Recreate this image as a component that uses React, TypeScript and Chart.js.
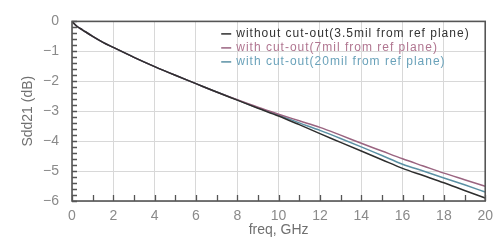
import React, { useEffect, useRef } from "react";
import { Chart, registerables } from "chart.js";

Chart.register(...registerables);

const freq = [0, 0.25, 0.5, 1, 1.5, 2, 3, 4, 5, 6, 7, 8, 9, 10, 11, 12, 13, 14, 15, 16, 17, 18, 19, 20];
const sNoCut = [0, -0.17, -0.28, -0.5, -0.7, -0.87, -1.2, -1.51, -1.8, -2.08, -2.36, -2.63, -2.9, -3.16, -3.45, -3.75, -4.04, -4.33, -4.62, -4.91, -5.15, -5.39, -5.65, -5.9];
const sCut7 = [0, -0.17, -0.28, -0.5, -0.7, -0.87, -1.2, -1.51, -1.8, -2.08, -2.36, -2.62, -2.87, -3.1, -3.32, -3.54, -3.8, -4.07, -4.33, -4.59, -4.83, -5.07, -5.29, -5.51];
const sCut20 = [0, -0.17, -0.28, -0.5, -0.7, -0.87, -1.2, -1.51, -1.8, -2.08, -2.36, -2.62, -2.89, -3.13, -3.39, -3.64, -3.91, -4.19, -4.48, -4.77, -5.0, -5.23, -5.46, -5.7];

const seriesLabels = [
  "without cut-out(3.5mil from ref plane)",
  "with cut-out(7mil from ref plane)",
  "with cut-out(20mil from ref plane)",
];
const lineColors = ["#2e2e2e", "#9a6480", "#5a90a4"];
const legendTextColors = ["#333333", "#b07590", "#6aa2ba"];

const xTicks = [0, 2, 4, 6, 8, 10, 12, 14, 16, 18, 20];
const yTicks = [0, -1, -2, -3, -4, -5, -6];

const FONT = "'Liberation Sans', Arial, sans-serif";

const framePlugin = {
  id: "frame",
  afterDraw(chart: any) {
    const { ctx, chartArea, scales } = chart;
    const { left, right, top, bottom } = chartArea;
    const x = scales.x;
    const y = scales.y;
    ctx.save();
    ctx.strokeStyle = "#555";
    ctx.lineWidth = 1.3;
    ctx.beginPath();
    for (let i = 0; i <= 30; i++) {
      const py = Math.round(y.getPixelForValue(-i * 0.2)) + 0.5;
      ctx.moveTo(left, py);
      ctx.lineTo(left + 5, py);
    }
    for (let i = 0; i <= 20; i++) {
      const px = Math.round(x.getPixelForValue(i)) + 0.5;
      ctx.moveTo(px, bottom);
      ctx.lineTo(px, bottom - 6);
    }
    ctx.stroke();
    ctx.lineWidth = 1.6;
    ctx.strokeRect(left, top, right - left, bottom - top);

    // legend
    ctx.font = "12px " + FONT;
    try {
      (ctx as any).letterSpacing = "1px";
    } catch (e) {}
    ctx.textBaseline = "middle";
    ctx.textAlign = "left";
    const ds = chart.data.datasets;
    for (let i = 0; i < ds.length; i++) {
      const ly = top + 12.5 + i * 14;
      ctx.strokeStyle = ds[i].borderColor;
      ctx.lineWidth = 1.5;
      ctx.beginPath();
      ctx.moveTo(right - 264, ly);
      ctx.lineTo(right - 254, ly);
      ctx.stroke();
      ctx.fillStyle = legendTextColors[i];
      ctx.fillText(ds[i].label, right - 249, ly);
    }
    ctx.restore();
  },
};

export default function App() {
  const ref = useRef<HTMLCanvasElement>(null);
  useEffect(() => {
    document.body.style.margin = "0";
    const canvas = ref.current!;
    const mk = (vals: number[]) => freq.map((f, i) => ({ x: f, y: vals[i] }));
    const chart = new Chart(canvas, {
      type: "line",
      data: {
        datasets: [sNoCut, sCut7, sCut20].map((vals, i) => ({
          label: seriesLabels[i],
          data: mk(vals),
          borderColor: lineColors[i],
          backgroundColor: lineColors[i],
          borderWidth: 1.5,
          pointRadius: 0,
          cubicInterpolationMode: "monotone" as const,
          fill: false,
        })),
      },
      options: {
        animation: false,
        responsive: false,
        maintainAspectRatio: false,
        layout: { padding: { left: 0, right: 14, top: 12, bottom: 0 } },
        plugins: { legend: { display: false }, tooltip: { enabled: false } },
        scales: {
          x: {
            type: "linear",
            min: 0,
            max: 20,
            afterBuildTicks: (s: any) => {
              s.ticks = xTicks.map((v) => ({ value: v }));
            },
            afterFit: (s: any) => {
              s.height = 43;
            },
            grid: { color: "#d8d8d8", lineWidth: 1, drawTicks: false },
            border: { display: false },
            ticks: {
              color: "#8a8a8a",
              font: { family: FONT, size: 14 },
              padding: 7,
              maxRotation: 0,
              callback: (v: any) => String(v),
            },
            title: {
              display: true,
              text: "freq, GHz",
              color: "#707070",
              font: { family: FONT, size: 14 },
              padding: { top: 0, bottom: 5 },
            },
          },
          y: {
            type: "linear",
            min: -6,
            max: 0,
            afterBuildTicks: (s: any) => {
              s.ticks = yTicks.map((v) => ({ value: v }));
            },
            afterFit: (s: any) => {
              s.width = 72;
            },
            grid: { color: "#d8d8d8", lineWidth: 1, drawTicks: false },
            border: { display: false },
            ticks: {
              color: "#8a8a8a",
              font: { family: FONT, size: 14 },
              padding: 13,
              callback: (v: any) => (v < 0 ? "\u2212" + Math.abs(v) : String(v)),
            },
            title: {
              display: true,
              text: "Sdd21 (dB)",
              color: "#707070",
              font: { family: FONT, size: 14 },
              padding: { top: 20, bottom: 0 },
            },
          },
        },
      },
      plugins: [framePlugin],
    });
    return () => chart.destroy();
  }, []);
  return (
    <div style={{ width: 500, height: 244 }}>
      <canvas ref={ref} width={500} height={244} style={{ display: "block" }} />
    </div>
  );
}
